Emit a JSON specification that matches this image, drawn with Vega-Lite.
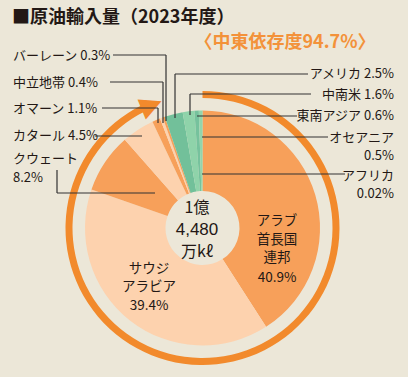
{
  "$schema": "https://vega.github.io/schema/vega-lite/v6.json",
  "width": 408,
  "height": 377,
  "autosize": {"type": "none"},
  "padding": 0,
  "background": "#ECE7D8",
  "title": {
    "text": "■原油輸入量（2023年度）",
    "anchor": "start",
    "frame": "group",
    "offset": -27,
    "dx": 12,
    "font": "Noto Sans CJK JP",
    "fontSize": 18,
    "fontWeight": "bold",
    "color": "#231815"
  },
  "config": {"view": {"stroke": null}, "font": "Noto Sans CJK JP"},
  "datasets": {
    "pie": [
      {"i": 1, "name": "アラブ首長国連邦", "v": 40.9},
      {"i": 2, "name": "サウジアラビア", "v": 39.4},
      {"i": 3, "name": "クウェート", "v": 8.2},
      {"i": 4, "name": "カタール", "v": 4.5},
      {"i": 5, "name": "オマーン", "v": 1.1},
      {"i": 6, "name": "中立地帯", "v": 0.4},
      {"i": 7, "name": "バーレーン", "v": 0.3},
      {"i": 8, "name": "アメリカ", "v": 2.5},
      {"i": 9, "name": "中南米", "v": 1.6},
      {"i": 10, "name": "東南アジア", "v": 0.6},
      {"i": 11, "name": "オセアニア", "v": 0.5},
      {"i": 12, "name": "アフリカ", "v": 0.02}
    ],
    "ring": [{"s": 0, "e": 92.8, "tip": 93.75, "sym": "▶"}],
    "sub": [{"t": "〈中東依存度94.7%〉"}],
    "labels": [
      {"g": "L", "t": "バーレーン 0.3%", "x": -1.6128, "y": 1.4638},
      {"g": "L", "t": "中立地帯 0.4%", "x": -1.6128, "y": 1.234},
      {"g": "L", "t": "オマーン 1.1%", "x": -1.6128, "y": 1.0128},
      {"g": "L", "t": "カタール 4.5%", "x": -1.6128, "y": 0.783},
      {"g": "L", "t": "クウェート", "x": -1.6128, "y": 0.5872},
      {"g": "L", "t": "8.2%", "x": -1.6128, "y": 0.4255},
      {"g": "R", "t": "アメリカ 2.5%", "x": 1.6298, "y": 1.3106},
      {"g": "R", "t": "中南米 1.6%", "x": 1.6298, "y": 1.1319},
      {"g": "R", "t": "東南アジア 0.6%", "x": 1.6298, "y": 0.9532},
      {"g": "R", "t": "オセアニア", "x": 1.6298, "y": 0.766},
      {"g": "R", "t": "0.5%", "x": 1.6298, "y": 0.6128},
      {"g": "R", "t": "アフリカ", "x": 1.6298, "y": 0.4426},
      {"g": "R", "t": "0.02%", "x": 1.6298, "y": 0.2894},
      {"g": "in", "t": "アラブ", "x": 0.634, "y": 0.0596},
      {"g": "in", "t": "首長国", "x": 0.634, "y": -0.0979},
      {"g": "in", "t": "連邦", "x": 0.634, "y": -0.2553},
      {"g": "in", "t": "40.9%", "x": 0.634, "y": -0.4213},
      {"g": "in", "t": "サウジ", "x": -0.4553, "y": -0.3447},
      {"g": "in", "t": "アラビア", "x": -0.4553, "y": -0.5021},
      {"g": "in", "t": "39.4%", "x": -0.4553, "y": -0.6638},
      {"g": "ctr", "t": "1億", "x": -0.0468, "y": 0.166},
      {"g": "ctrn", "t": "4,480", "x": -0.0468, "y": -0.0187},
      {"g": "ctr", "t": "万kℓ", "x": -0.0468, "y": -0.2034}
    ],
    "leaders": [
      {"x": -0.7617, "x2": -0.3106, "y": 1.4723, "y2": 1.4723},
      {"x": -0.3106, "x2": -0.3106, "y": 1.4723, "y2": 0.9106},
      {"x": -0.7872, "x2": -0.3362, "y": 1.2426, "y2": 1.2426},
      {"x": -0.3362, "x2": -0.3362, "y": 1.2426, "y2": 0.8936},
      {"x": -0.8553, "x2": -0.3787, "y": 1.0213, "y2": 1.0213},
      {"x": -0.3787, "x2": -0.3787, "y": 1.0213, "y2": 0.8936},
      {"x": -0.9149, "x2": -0.5149, "y": 0.783, "y2": 0.783},
      {"x": -1.2383, "x2": -1.2383, "y": 0.4936, "y2": 0.2979},
      {"x": -1.2383, "x2": -0.4043, "y": 0.2979, "y2": 0.2979},
      {"x": 0.8979, "x2": -0.234, "y": 1.3106, "y2": 1.3106},
      {"x": -0.234, "x2": -0.234, "y": 1.3106, "y2": 0.9362},
      {"x": 0.9234, "x2": -0.1064, "y": 1.1404, "y2": 1.1404},
      {"x": -0.1064, "x2": -0.1064, "y": 1.1404, "y2": 0.9617},
      {"x": 0.8043, "x2": -0.0468, "y": 0.9532, "y2": 0.9532},
      {"x": 1.0681, "x2": -0.0043, "y": 0.7745, "y2": 0.7745},
      {"x": 1.2128, "x2": -0.0043, "y": 0.4596, "y2": 0.4596}
    ]
  },
  "layer": [
    {
      "data": {"name": "ring"},
      "mark": {"type": "arc", "radius": 137, "radius2": 130, "color": "#F28A2C"},
      "encoding": {
        "x": {"datum": 0, "type": "quantitative", "scale": {"domain": [-1.7234, 1.7489], "nice": false, "zero": false}, "axis": null},
        "y": {"datum": 0, "type": "quantitative", "scale": {"domain": [-1.2681, 1.9404], "nice": false, "zero": false}, "axis": null},
        "theta": {"field": "s", "type": "quantitative", "stack": null, "scale": {"domain": [0, 100], "range": [0, 6.283185307]}},
        "theta2": {"field": "e"}
      }
    },
    {
      "data": {"name": "ring"},
      "mark": {"type": "text", "radius": 133.5, "angle": 337.5, "fontSize": 28, "font": "DejaVu Sans", "color": "#F28A2C", "align": "center", "baseline": "middle"},
      "encoding": {
        "x": {"datum": 0, "type": "quantitative"},
        "y": {"datum": 0, "type": "quantitative"},
        "theta": {"field": "tip", "type": "quantitative", "stack": null, "scale": {"domain": [0, 100], "range": [0, 6.283185307]}},
        "text": {"field": "sym"}
      }
    },
    {
      "data": {"name": "pie"},
      "mark": {"type": "arc", "radius": 117.5, "radius2": 37},
      "encoding": {
        "x": {"datum": 0, "type": "quantitative"},
        "y": {"datum": 0, "type": "quantitative"},
        "theta": {"field": "v", "type": "quantitative", "stack": true, "scale": {"domain": [0, 100], "range": [0, 6.283185307]}},
        "order": {"field": "i", "type": "quantitative"},
        "color": {
          "field": "name", "type": "nominal", "legend": null,
          "scale": {
            "domain": ["アラブ首長国連邦", "サウジアラビア", "クウェート", "カタール", "オマーン", "中立地帯", "バーレーン", "アメリカ", "中南米", "東南アジア", "オセアニア", "アフリカ"],
            "range": ["#F7A05A", "#FDD2AE", "#F7A05A", "#FDD2AE", "#F7A05A", "#FDD2AE", "#F7A05A", "#72C09A", "#8FD3AA", "#76C29D", "#93D5AC", "#8FD3AA"]
          }
        }
      }
    },
    {
      "data": {"name": "leaders"},
      "mark": {"type": "rule", "color": "#333333", "strokeWidth": 1.2},
      "encoding": {
        "x": {"field": "x", "type": "quantitative"},
        "x2": {"field": "x2"},
        "y": {"field": "y", "type": "quantitative"},
        "y2": {"field": "y2"}
      }
    },
    {
      "data": {"name": "labels"},
      "transform": [{"filter": "datum.g == 'L'"}],
      "mark": {"type": "text", "align": "left", "baseline": "middle", "fontSize": 13, "color": "#231815"},
      "encoding": {
        "x": {"field": "x", "type": "quantitative"},
        "y": {"field": "y", "type": "quantitative"},
        "text": {"field": "t"}
      }
    },
    {
      "data": {"name": "labels"},
      "transform": [{"filter": "datum.g == 'R'"}],
      "mark": {"type": "text", "align": "right", "baseline": "middle", "fontSize": 13, "color": "#231815"},
      "encoding": {
        "x": {"field": "x", "type": "quantitative"},
        "y": {"field": "y", "type": "quantitative"},
        "text": {"field": "t"}
      }
    },
    {
      "data": {"name": "labels"},
      "transform": [{"filter": "datum.g == 'in'"}],
      "mark": {"type": "text", "align": "center", "baseline": "middle", "fontSize": 13.5, "color": "#231815"},
      "encoding": {
        "x": {"field": "x", "type": "quantitative"},
        "y": {"field": "y", "type": "quantitative"},
        "text": {"field": "t"}
      }
    },
    {
      "data": {"name": "labels"},
      "transform": [{"filter": "datum.g == 'ctr'"}],
      "mark": {"type": "text", "align": "center", "baseline": "middle", "fontSize": 16, "color": "#231815"},
      "encoding": {
        "x": {"field": "x", "type": "quantitative"},
        "y": {"field": "y", "type": "quantitative"},
        "text": {"field": "t"}
      }
    },
    {
      "data": {"name": "labels"},
      "transform": [{"filter": "datum.g == 'ctrn'"}],
      "mark": {"type": "text", "align": "center", "baseline": "middle", "fontSize": 17, "font": "Liberation Sans", "color": "#231815"},
      "encoding": {
        "x": {"field": "x", "type": "quantitative"},
        "y": {"field": "y", "type": "quantitative"},
        "text": {"field": "t"}
      }
    },
    {
      "data": {"name": "sub"},
      "mark": {"type": "text", "align": "center", "baseline": "middle", "fontSize": 18, "fontWeight": "bold", "color": "#F3923A"},
      "encoding": {
        "x": {"datum": 0.7021, "type": "quantitative"},
        "y": {"datum": 1.5745, "type": "quantitative"},
        "text": {"field": "t"}
      }
    }
  ]
}
